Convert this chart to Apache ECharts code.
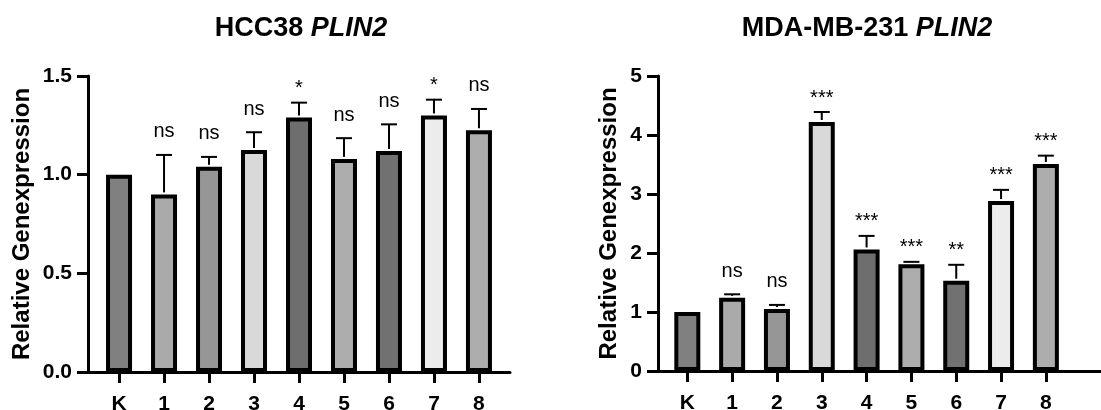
<!DOCTYPE html>
<html>
<head>
<meta charset="utf-8">
<script src="https://cdn.jsdelivr.net/npm/echarts@6/dist/echarts.min.js"></script>
<style>
html,body{margin:0;padding:0;background:#fff;}
#chart{width:1101px;height:410px;}
</style>
</head>
<body>
<div id="chart"></div>
<script>
// ---- data ----
const categories = ['K', '1', '2', '3', '4', '5', '6', '7', '8'];
const barColors = ['#808080', '#aaaaaa', '#969696', '#d9d9d9', '#6e6e6e', '#adadad', '#717171', '#ececec', '#adadad'];

const hccMean = [1.00, 0.90, 1.04, 1.125, 1.29, 1.08, 1.12, 1.30, 1.225];
const hccErr  = [0, 0.20, 0.05, 0.09, 0.075, 0.105, 0.135, 0.08, 0.108];
const hccSig  = ['', 'ns', 'ns', 'ns', '*', 'ns', 'ns', '*', 'ns'];
const hccTicks = [0, 0.5, 1.0, 1.5];

const mdaMean = [1.00, 1.24, 1.05, 4.22, 2.06, 1.81, 1.53, 2.88, 3.51];
const mdaErr  = [0, 0.06, 0.07, 0.17, 0.23, 0.04, 0.27, 0.19, 0.14];
const mdaSig  = ['', 'ns', 'ns', '***', '***', '***', '**', '***', '***'];
const mdaTicks = [0, 1, 2, 3, 4, 5];

const FONT = 'Arial, "Liberation Sans", Helvetica, sans-serif';
const idx = categories.map((c, i) => i);

function xAxisCfg(gridIndex, min, max) {
  return {
    type: 'value', gridIndex, min, max,
    splitLine: {show: false},
    axisLine: {show: true, onZero: false, lineStyle: {color: '#000', width: 3}},
    axisTick: {show: true, customValues: idx, length: 11, lineStyle: {color: '#000', width: 3}},
    axisLabel: {show: true, customValues: idx, margin: 22,
      formatter: v => categories[Math.round(v)],
      color: '#000', fontFamily: FONT, fontWeight: 'bold', fontSize: 21}
  };
}
function yAxisCfg(gridIndex, ticks, digits, nameGap) {
  return {
    type: 'value', gridIndex,
    min: ticks[0], max: ticks[ticks.length - 1], interval: ticks[1] - ticks[0],
    name: 'Relative Genexpression', nameLocation: 'middle', nameGap,
    nameTextStyle: {color: '#000', fontFamily: FONT, fontWeight: 'bold', fontSize: 24},
    splitLine: {show: false},
    axisLine: {show: true, onZero: false, lineStyle: {color: '#000', width: 3}},
    axisTick: {show: true, length: 11, lineStyle: {color: '#000', width: 3}},
    axisLabel: {margin: 16, color: '#000', fontFamily: FONT, fontWeight: 'bold', fontSize: 21,
      formatter: v => v.toFixed(digits)}
  };
}
function barSeries(gi, mean) {
  return {
    type: 'bar', xAxisIndex: gi, yAxisIndex: gi,
    barWidth: 26,
    data: mean.map((v, i) => ({value: [i, v], itemStyle: {color: barColors[i]}})),
    itemStyle: {borderColor: '#000', borderWidth: 4},
    z: 2
  };
}
function errSeries(gi, mean, err, sig) {
  return {
    type: 'custom', xAxisIndex: gi, yAxisIndex: gi, z: 3,
    data: mean.map((v, i) => [i, v, v + err[i]]),
    renderItem: function (params, api) {
      const i = api.value(0);
      const base = api.coord([i, api.value(1)]);
      const top = api.coord([i, api.value(2)]);
      const children = [];
      if (err[i] > 0) {
        children.push({type: 'line', shape: {x1: top[0], y1: base[1] - 2, x2: top[0], y2: top[1]},
          style: {stroke: '#000', lineWidth: 2}});
        children.push({type: 'line', shape: {x1: top[0] - 8, y1: top[1], x2: top[0] + 8, y2: top[1]},
          style: {stroke: '#000', lineWidth: 2}});
      }
      const s = sig[i];
      if (s) {
        const off = s.indexOf('*') >= 0 ? 14 : 23;
        children.push({type: 'text', x: top[0], y: top[1] - off,
          style: {text: s, fill: '#000', font: '20px ' + FONT, align: 'center', verticalAlign: 'middle'}});
      }
      return {type: 'group', children};
    }
  };
}

const chart = echarts.init(document.getElementById('chart'), null, {renderer: 'canvas'});
chart.setOption({
  backgroundColor: '#fff',
  animation: false,
  title: [
    {text: 'HCC38 {i|PLIN2}', left: 301, top: 15, padding: 0, textAlign: 'center',
      textStyle: {color: '#000', fontFamily: FONT, fontWeight: 'bold', fontSize: 27,
        rich: {i: {fontStyle: 'italic', fontWeight: 'bold', fontSize: 27, fontFamily: FONT, color: '#000'}}}},
    {text: 'MDA-MB-231 {i|PLIN2}', left: 867, top: 15, padding: 0, textAlign: 'center',
      textStyle: {color: '#000', fontFamily: FONT, fontWeight: 'bold', fontSize: 27,
        rich: {i: {fontStyle: 'italic', fontWeight: 'bold', fontSize: 27, fontFamily: FONT, color: '#000'}}}}
  ],
  grid: [
    {left: 88, width: 422, top: 76, height: 296, outerBoundsMode: 'none', containLabel: false},
    {left: 658, width: 443, top: 76, height: 295, outerBoundsMode: 'none', containLabel: false}
  ],
  xAxis: [xAxisCfg(0, -0.69, 8.69), xAxisCfg(1, -0.654, 9.23)],
  yAxis: [yAxisCfg(0, hccTicks, 1, 54), yAxisCfg(1, mdaTicks, 0, 37)],
  series: [
    barSeries(0, hccMean), errSeries(0, hccMean, hccErr, hccSig),
    barSeries(1, mdaMean), errSeries(1, mdaMean, mdaErr, mdaSig)
  ]
});
</script>
</body>
</html>
